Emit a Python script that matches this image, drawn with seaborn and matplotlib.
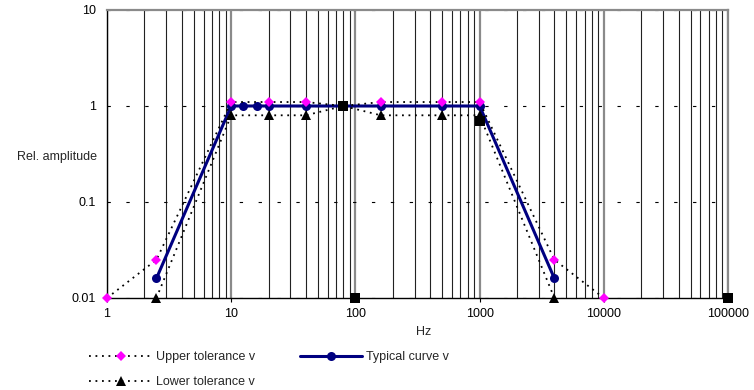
import matplotlib
matplotlib.use("Agg")
import matplotlib.pyplot as plt
from matplotlib.ticker import FixedLocator, LogLocator, NullFormatter
from matplotlib.lines import Line2D
import seaborn as sns

# frequencies (Hz) and relative amplitudes
upper_hz = [1, 2.5, 10, 20, 40, 80, 160, 500, 1000, 4000, 10000]
upper_amp = [0.01, 0.025, 1.1, 1.1, 1.1, 1.0, 1.1, 1.1, 1.1, 0.025, 0.01]

lower_hz = [2.5, 10, 20, 40, 80, 160, 500, 1000, 4000]
lower_amp = [0.01, 0.8, 0.8, 0.8, 1.0, 0.8, 0.8, 0.8, 0.01]

typical_hz = [2.5, 10, 12.5, 16, 20, 40, 80, 160, 500, 1000, 4000]
typical_amp = [0.016, 1, 1, 1, 1, 1, 1, 1, 1, 1, 0.016]

# extra marker-only points (black squares, not in legend)
extra_hz = [80, 100, 1000, 100000]
extra_amp = [1.0, 0.01, 0.7, 0.01]

x_ticks = [1, 10, 100, 1000, 10000, 100000]
x_labels = ['1', '10', '100', '1000', '10000', '100000']
y_ticks = [0.01, 0.1, 1, 10]
y_labels = ['0.01', '0.1', '1', '10']

sns.set_theme(style='white')
plt.rcParams['font.family'] = ['Liberation Sans', 'DejaVu Sans']

fig = plt.figure(figsize=(7.54, 3.90), dpi=100)
ax = fig.add_axes([107/754, 1-298/390, 621/754, 288/390])
ax.set(xscale='log', yscale='log')

dotted = (0, (1, 2.6))

sns.lineplot(x=typical_hz, y=typical_amp, ax=ax, color='#000080', lw=2.2,
             marker='o', markersize=6.5, markeredgewidth=0, estimator=None,
             sort=False, clip_on=False, zorder=3)
sns.lineplot(x=upper_hz, y=upper_amp, ax=ax, color='black', lw=1.3,
             linestyle=dotted, marker='D', markersize=5, markerfacecolor='#ff00ff',
             markeredgewidth=0, estimator=None, sort=False, clip_on=False, zorder=4)
sns.lineplot(x=lower_hz, y=lower_amp, ax=ax, color='black', lw=1.3,
             linestyle=dotted, marker='^', markersize=6.5, markerfacecolor='black',
             markeredgewidth=0, estimator=None, sort=False, clip_on=False, zorder=4)
sns.scatterplot(x=extra_hz, y=extra_amp, ax=ax, color='black', marker='s',
                s=42, linewidth=0, clip_on=False, zorder=5)

ax.set_xlim(1, 100000)
ax.set_ylim(0.01, 10)

ax.xaxis.set_major_locator(FixedLocator(x_ticks))
ax.set_xticklabels(x_labels)
ax.xaxis.set_minor_locator(LogLocator(base=10, subs=range(2, 10)))
ax.xaxis.set_minor_formatter(NullFormatter())
ax.yaxis.set_major_locator(FixedLocator(y_ticks))
ax.set_yticklabels(y_labels)
ax.yaxis.set_minor_locator(FixedLocator([]))

ax.tick_params(axis='both', which='major', labelsize=9, width=0.8,
               color='black', direction='out', labelcolor='black')
ax.tick_params(axis='x', which='major', length=3, bottom=True, pad=4)
ax.tick_params(axis='y', which='major', length=0, pad=8)
ax.tick_params(which='minor', length=0)

ax.grid(which='minor', axis='x', color='#222222', lw=0.8)
ax.grid(which='major', axis='x', color='#8a8a8a', lw=1.6)
ax.grid(which='major', axis='y', color='black', lw=0.8, linestyle=(0, (3, 14)))
ax.set_axisbelow(True)

for s in ['left', 'bottom']:
    ax.spines[s].set_color('black')
    ax.spines[s].set_linewidth(1.0)
ax.spines['top'].set_color('#8a8a8a')
ax.spines['top'].set_linewidth(1.6)
ax.spines['right'].set_color('#8a8a8a')
ax.spines['right'].set_linewidth(1.6)

ax.set_xlabel('Hz', fontsize=9)
ax.xaxis.set_label_coords(0.51, -0.097)
ax.set_ylabel('Rel. amplitude', fontsize=9, rotation=0, ha='right', va='center')
ax.yaxis.set_label_coords(-0.016, 0.49)

handles = [
    Line2D([], [], color='black', lw=1.3, linestyle=dotted, marker='D',
           markersize=5, markerfacecolor='#ff00ff', markeredgewidth=0),
    Line2D([], [], color='black', lw=1.3, linestyle=dotted, marker='^',
           markersize=6.5, markerfacecolor='black', markeredgewidth=0),
    Line2D([], [], color='#000080', lw=2.2, marker='o', markersize=6.5,
           markeredgewidth=0),
]
labels = ['Upper tolerance v', 'Lower tolerance v', 'Typical curve v']
fig.legend(handles, labels, ncol=2, frameon=False, fontsize=9, numpoints=1,
           handlelength=5.0, handletextpad=0.3, columnspacing=3.6,
           labelspacing=1.05, loc='upper left', bbox_to_anchor=(78/754, 1-340/390))

fig.savefig('out.png', dpi=100)
